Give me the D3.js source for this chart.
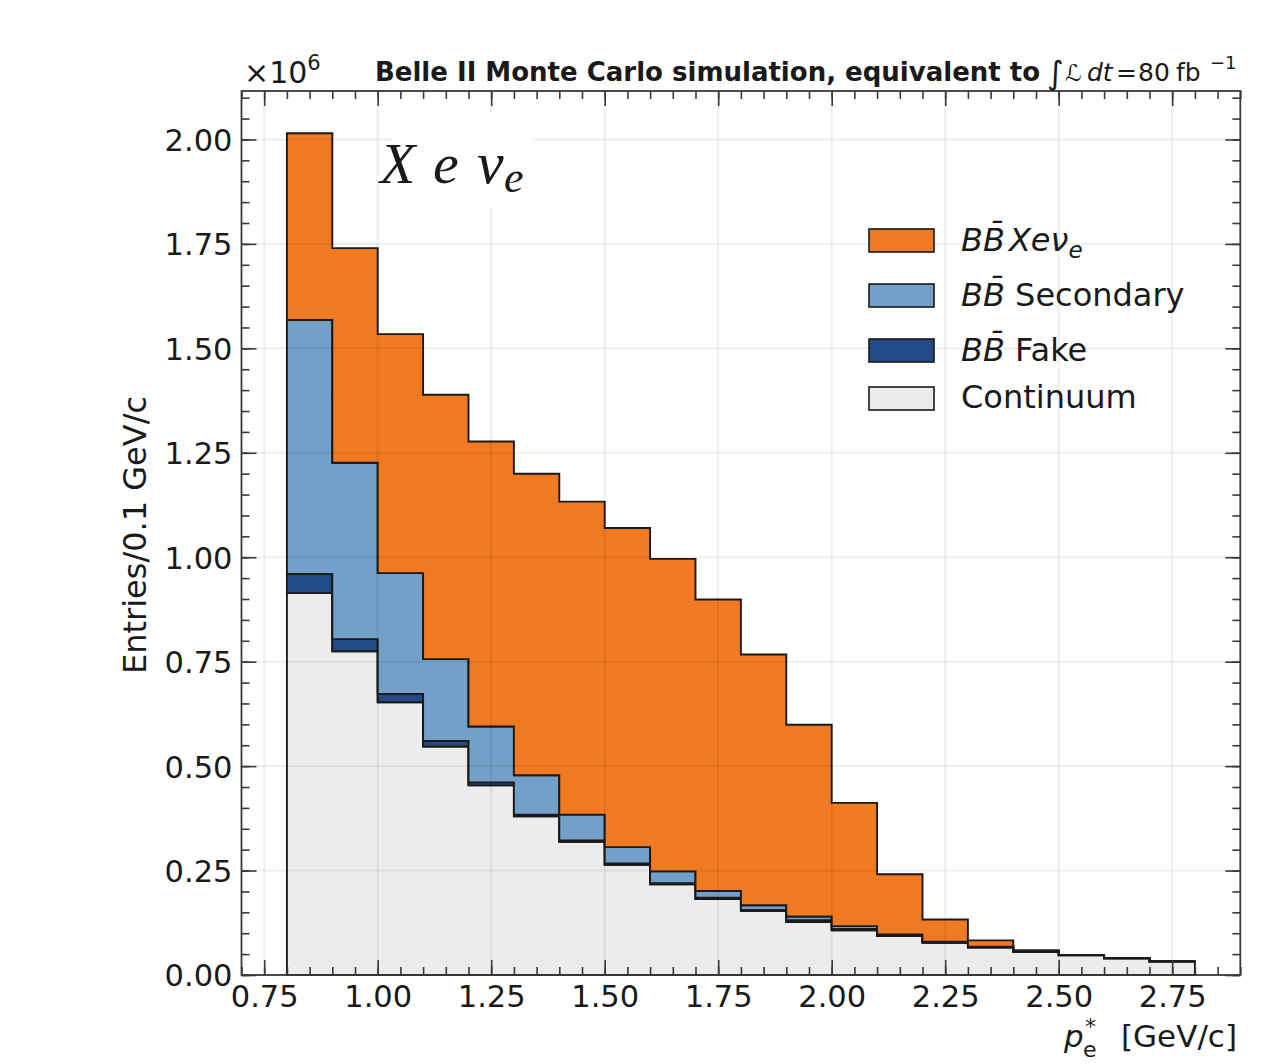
<!DOCTYPE html>
<html>
<head>
<meta charset="utf-8">
<script src="https://cdn.jsdelivr.net/npm/d3@7"></script>
<style>
  body { margin: 0; background: #fff; }
  svg text { font-family: 'DejaVu Sans', sans-serif; fill: #1a1a1a; }
</style>
</head>
<body>
<div id="chart"></div>
<script>
// lepton momentum bins (GeV/c), 0.1 wide
const binStarts = [0.8, 0.9, 1.0, 1.1, 1.2, 1.3, 1.4, 1.5, 1.6, 1.7,
                   1.8, 1.9, 2.0, 2.1, 2.2, 2.3, 2.4, 2.5, 2.6, 2.7];
const binWidth = 0.1;

// entries per bin, x10^6 (bottom of the stack first)
const continuum   = [0.914, 0.775, 0.653, 0.547, 0.454, 0.380, 0.319, 0.264, 0.217, 0.182,
                     0.153, 0.127, 0.107, 0.093, 0.077, 0.066, 0.055, 0.047, 0.040, 0.032];
const bbFake      = [0.046, 0.029, 0.020, 0.013, 0.007, 0.004, 0.003, 0.003, 0.003, 0.003,
                     0.003, 0.004, 0.003, 0.003, 0.002, 0.002, 0.003, 0.001, 0.000, 0.001];
const bbSecondary = [0.608, 0.422, 0.289, 0.196, 0.134, 0.094, 0.062, 0.039, 0.028, 0.016,
                     0.011, 0.009, 0.007, 0.001, 0.001, 0.000, 0.000, 0.000, 0.000, 0.000];
const bbSignal    = [0.447, 0.514, 0.572, 0.633, 0.682, 0.722, 0.749, 0.764, 0.748, 0.698,
                     0.600, 0.459, 0.295, 0.144, 0.053, 0.015, 0.001, 0.000, 0.000, 0.000];

const xTickValues = [0.75, 1.00, 1.25, 1.50, 1.75, 2.00, 2.25, 2.50, 2.75];
const yTickValues = [0.00, 0.25, 0.50, 0.75, 1.00, 1.25, 1.50, 1.75, 2.00];
const xDomain = [0.7, 2.9];
const yDomain = [0, 2.116];

const layers = [
  { key: 'continuum', values: continuum,   color: '#ececea' },
  { key: 'fake',      values: bbFake,      color: '#234b85' },
  { key: 'secondary', values: bbSecondary, color: '#72a0c9' },
  { key: 'signal',    values: bbSignal,    color: '#f07a22' }
];

class StackedHistogram {
  constructor({ container }) {
    this.svg = d3.select(container).append('svg')
      .attr('width', 1264)
      .attr('height', 1064);
    this.box = { left: 241.5, right: 1240.3, top: 91, bottom: 975 };
  }

  load() {
    this.x = d3.scaleLinear().domain(xDomain).range([this.box.left, this.box.right]);
    this.y = d3.scaleLinear().domain(yDomain).range([this.box.bottom, this.box.top]);
    this.drawBars();
    this.drawGrid();
    this.drawLabelBox();
    this.drawAxes();
    this.drawLegend();
    this.drawTexts();
  }

  drawBars() {
    let lower = binStarts.map(() => 0);
    let line = d3.line().x(p => this.x(p[0])).y(p => this.y(p[1]));

    layers.forEach(layer => {
      let upper = lower.map((v, i) => v + layer.values[i]);
      let pts = [[binStarts[0], lower[0]]];
      binStarts.forEach((b, i) => {
        pts.push([b, upper[i]], [b + binWidth, upper[i]]);
      });
      for (let i = binStarts.length - 1; i >= 0; i--) {
        pts.push([binStarts[i] + binWidth, lower[i]], [binStarts[i], lower[i]]);
      }
      this.svg.append('path')
        .attr('d', line(pts) + 'Z')
        .attr('fill', layer.color)
        .attr('stroke', '#1a1a1a')
        .attr('stroke-width', 1.9)
        .attr('stroke-linejoin', 'miter');
      lower = upper;
    });
  }

  drawGrid() {
    let g = this.svg.append('g')
      .attr('stroke', '#000')
      .attr('stroke-opacity', 0.065)
      .attr('stroke-width', 2);
    g.selectAll('line.vx').data(xTickValues).enter().append('line')
      .attr('x1', d => this.x(d)).attr('x2', d => this.x(d))
      .attr('y1', this.box.top).attr('y2', this.box.bottom);
    g.selectAll('line.hy').data(yTickValues).enter().append('line')
      .attr('y1', d => this.y(d)).attr('y2', d => this.y(d))
      .attr('x1', this.box.left).attr('x2', this.box.right);
  }

  drawLabelBox() {
    // the "X e nu_e" tag sits on a white patch that hides the grid
    this.svg.append('rect')
      .attr('x', 392).attr('y', 112)
      .attr('width', 140).attr('height', 95)
      .attr('fill', '#fff');

    let t = this.svg.append('text')
      .attr('y', 183)
      .style('font-family', "'Liberation Serif', serif")
      .style('font-style', 'italic')
      .style('font-size', '58px')
      .attr('fill', '#000');
    t.append('tspan').attr('x', 380).text('X');
    t.append('tspan').attr('x', 433).text('e');
    t.append('tspan').attr('x', 477).style('font-size', '60px').text('ν');
    t.append('tspan').attr('x', 504).attr('y', 192).style('font-size', '44px').text('e');
  }

  drawAxes() {
    let minor = d3.range(14, 59).map(i => i * 0.05).filter(v => v <= xDomain[1] + 1e-9);
    let minorY = d3.range(0, 43).map(i => i * 0.05).filter(v => v <= yDomain[1]);
    let fmt = d3.format('.2f');

    let style = sel => {
      sel.select('.domain').remove();
      sel.selectAll('.tick line').attr('stroke', '#3a3a3a').attr('stroke-width', 1.6);
      sel.selectAll('.tick text')
        .style('font-size', '30.5px')
        .attr('fill', '#1a1a1a');
    };

    let b = this.box;
    let axes = [
      { gen: d3.axisBottom, scale: this.x, tr: `translate(0,${b.bottom})`, ticks: xTickValues, minor: minor, labels: true },
      { gen: d3.axisTop,    scale: this.x, tr: `translate(0,${b.top})`,    ticks: xTickValues, minor: minor, labels: false },
      { gen: d3.axisLeft,   scale: this.y, tr: `translate(${b.left},0)`,   ticks: yTickValues, minor: minorY, labels: true },
      { gen: d3.axisRight,  scale: this.y, tr: `translate(${b.right},0)`,  ticks: yTickValues, minor: minorY, labels: false }
    ];

    axes.forEach(a => {
      this.svg.append('g')
        .attr('transform', a.tr)
        .call(a.gen(a.scale).tickValues(a.minor).tickSize(-8).tickFormat(''))
        .call(style);
      let major = this.svg.append('g')
        .attr('transform', a.tr)
        .call(a.gen(a.scale).tickValues(a.ticks).tickSize(-15).tickPadding(8)
          .tickFormat(a.labels ? fmt : ''))
        .call(style);
      if (a.gen === d3.axisBottom) {
        major.selectAll('.tick text').attr('y', 0).attr('dy', 0).attr('transform', 'translate(0,32)');
      }
      if (a.gen === d3.axisLeft) {
        major.selectAll('.tick text').attr('x', -9).attr('dy', '0.36em');
      }
    });

    this.svg.append('rect')
      .attr('x', b.left).attr('y', b.top)
      .attr('width', b.right - b.left).attr('height', b.bottom - b.top)
      .attr('fill', 'none')
      .attr('stroke', '#3a3a3a')
      .attr('stroke-width', 1.8);
  }

  drawLegend() {
    let items = [
      { layer: 'signal',    top: 229, base: 251 },
      { layer: 'secondary', top: 284, base: 306 },
      { layer: 'fake',      top: 339, base: 361 },
      { layer: 'continuum', top: 387, base: 408 }
    ];
    let g = this.svg.append('g');
    items.forEach(it => {
      let layer = layers.find(l => l.key === it.layer);
      g.append('rect')
        .attr('x', 869).attr('y', it.top)
        .attr('width', 65).attr('height', 23)
        .attr('fill', layer.color)
        .attr('stroke', '#1a1a1a')
        .attr('stroke-width', 1.6);

      let t = g.append('text')
        .attr('x', 961).attr('y', it.base)
        .style('font-size', '32px');
      if (it.layer !== 'continuum') {
        t.append('tspan').style('font-style', 'italic').text('BB\u0304');
      }
      if (it.layer === 'signal') {
        t.append('tspan').style('font-style', 'italic').attr('dx', 4).text('Xeν');
        t.append('tspan').style('font-style', 'italic').style('font-size', '23px')
          .attr('dy', 7).text('e');
      } else if (it.layer === 'secondary') {
        t.append('tspan').text(' Secondary');
      } else if (it.layer === 'fake') {
        t.append('tspan').text(' Fake');
      } else {
        t.append('tspan').text('Continuum');
      }
    });
  }

  drawTexts() {
    // y axis title
    this.svg.append('text')
      .attr('transform', 'translate(146,535) rotate(-90)')
      .attr('text-anchor', 'middle')
      .style('font-size', '32px')
      .text('Entries/0.1 GeV/c');

    // x axis title
    let xl = this.svg.append('text').style('font-size', '31px');
    xl.append('tspan').attr('x', 1064).attr('y', 1047).style('font-style', 'italic').text('p');
    xl.append('tspan').attr('x', 1085).attr('y', 1034).style('font-size', '22px').text('*');
    xl.append('tspan').attr('x', 1083).attr('y', 1057).style('font-size', '22px').text('e');
    xl.append('tspan').attr('x', 1121).attr('y', 1047).text('[GeV/c]');

    // offset text
    let off = this.svg.append('text').attr('x', 244).attr('y', 83).style('font-size', '30px');
    off.append('tspan').text('×10');
    off.append('tspan').attr('dy', -13).style('font-size', '21px').text('6');

    // title
    let tt = this.svg.append('text').attr('y', 81).style('font-size', '26px');
    tt.append('tspan').attr('x', 375).style('font-weight', 'bold')
      .text('Belle II Monte Carlo simulation, equivalent to');
    tt.append('tspan').attr('x', 1047).attr('y', 84).style('font-size', '32px').text('∫');
    tt.append('tspan').attr('x', 1065).attr('y', 81).style('font-size', '23px').style('font-style', 'italic').text('ℒ');
    tt.append('tspan').attr('x', 1087).style('font-size', '25px').style('font-style', 'italic').text('dt');
    tt.append('tspan').attr('x', 1116).style('font-size', '25px').text('=');
    tt.append('tspan').attr('x', 1138).style('font-size', '25px').text('80');
    tt.append('tspan').attr('x', 1176).style('font-size', '25px').text('fb');
    tt.append('tspan').attr('x', 1210).attr('y', 69).style('font-size', '18px').text('−1');
  }
}

let viz = new StackedHistogram({ container: '#chart' });
viz.load();
</script>
</body>
</html>
